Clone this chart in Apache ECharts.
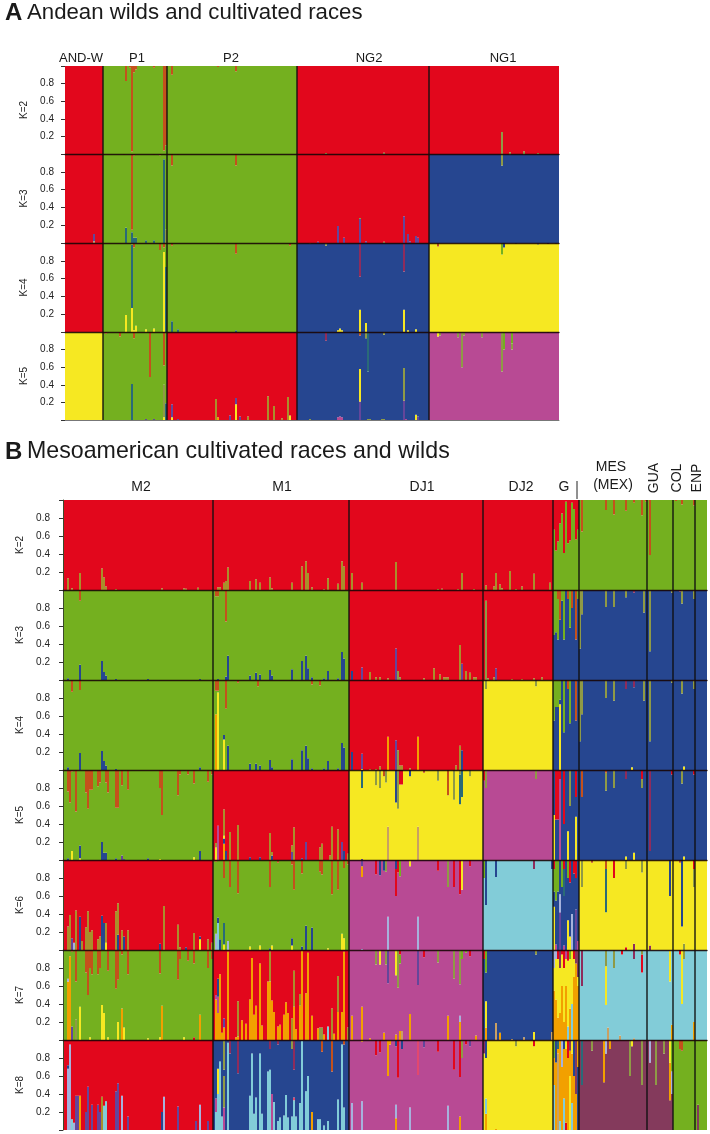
<!DOCTYPE html>
<html><head><meta charset="utf-8">
<style>html,body{margin:0;padding:0;background:#fff}#c{width:710px;height:1134px}</style>
<script src="https://cdn.jsdelivr.net/npm/echarts@6/dist/echarts.min.js"></script>
</head><body><div id="c"></div>
<script>
// ---------- categories ----------
const andeanGroups = ['AND-W','P1','P2','NG2','NG1'];
const andeanCounts = [19,32,65,66,65];
const mesoGroups = ['M2','M1','DJ1','DJ2','G','MES (MEX)','GUA','COL','ENP'];
const mesoCounts = [75,68,67,35,13,34,13,11,6];
const ticks = [0.2,0.4,0.6,0.8];

// cluster colours
const colours = {R:'#e2071c',G:'#74b01f',B:'#264690',Y:'#f6e822',M:'#b84a94',C:'#82ccd8',O:'#f2a000',P:'#843a5c',
  r:'#c4511c',o:'#a98f2b',t:'#2a6a78',v:'#64469a',l:'#a6b2dc',n:'#c9a063',p:'#e2486e',m:'#8e2c5c',a:'#8f9a46'};

// ---------- dominant cluster of each group, per K ----------
const aBaseK2=['R','G','G','R','R'], aBaseK3=['R','G','G','R','B'], aBaseK4=['R','G','G','B','Y'], aBaseK5=['Y','G','R','B','M'];
const mBaseK2=['R','R','R','R','G','G','G','G','G'];
const mBaseK3=['G','G','R','R','B','B','B','B','B'];
const mBaseK4=['G','G','R','Y','B','B','B','B','B'];
const mBaseK5=['G','R','Y','M','B','B','B','B','B'];
const mBaseK6=['R','G','M','C','B','Y','Y','Y','Y'];
const mBaseK7=['G','R','M','B','Y','C','C','C','C'];
const mBaseK8=['R','B','M','Y','O','P','P','G','G'];

// ---------- minority shares: [individual, share, cluster]; low = rising from 0, high = hanging from 1 ----------
const aK2High=[[30,.17,'r'],[32,.02,'r'],[33,.97,'r'],[34,.07,'r'],[35,.04,'r'],[44,.02,'r'],[49,.96,'r'],[50,.9,'r'],[53,.1,'r'],[76,.01,'r'],[85,.06,'r']];
const aK2Low=[[218,.25,'a'],[222,.02,'a'],[229,.03,'a'],[236,.01,'a'],[130,.01,'a'],[159,.015,'a']];
const aK3High=[[33,.85,'r'],[29,.01,'r'],[34,.02,'r'],[44,.01,'r'],[47,.015,'r'],[53,.13,'r'],[56,.01,'r'],[85,.13,'r'],[218,.13,'a'],[222,.01,'a'],[229,.01,'a']];
const aK3Low=[[33,.12,'t'],[30,.17,'t'],[34,.06,'t'],[35,.06,'t'],[40,.03,'t'],[44,.03,'t'],[49,.94,'t'],[50,.15,'a'],[14,.02,'n'],[14,.08,'v'],[136,.19,'v'],[139,.06,'v'],[147,.27,'v'],[147,.01,'a'],[169,.3,'v'],[171,.1,'v'],[175,.08,'v'],[176,.06,'v'],[126,.015,'v'],[150,.02,'v'],[159,.015,'a'],[172,.02,'v']];
const aK4High=[[34,.05,'r'],[47,.08,'r'],[49,.05,'r'],[53,.03,'r'],[76,.01,'r'],[85,.12,'r'],[112,.03,'r'],[130,.03,'a'],[122,.01,'a'],[147,.38,'m'],[169,.32,'m'],[186,.04,'r'],[218,.13,'G'],[219,.05,'B'],[225,.01,'a'],[236,.02,'a'],[241,.01,'m'],[245,.01,'a']];
const aK4Low=[[33,.27,'Y'],[33,.71,'t'],[49,.9,'Y'],[50,.73,'t'],[30,.19,'Y'],[35,.07,'Y'],[34,.02,'Y'],[40,.03,'Y'],[44,.04,'Y'],[53,.12,'t'],[56,.03,'t'],[85,.02,'t'],[147,.25,'Y'],[150,.1,'Y'],[169,.25,'Y'],[171,.02,'Y'],[175,.03,'Y'],[136,.02,'Y'],[137,.04,'Y'],[138,.02,'Y']];
const aK5High=[[20,.02,'r'],[27,.05,'r'],[34,.07,'r'],[42,.51,'r'],[49,.38,'r'],[130,.1,'m'],[147,.04,'r'],[150,.07,'a'],[151,.45,'t'],[159,.03,'a'],[126,.01,'m'],[186,.05,'Y'],[187,.04,'a'],[196,.06,'a'],[198,.4,'a'],[199,.04,'a'],[208,.06,'a'],[218,.45,'a'],[219,.2,'G'],[223,.13,'G'],[223,.07,'a'],[230,.01,'a'],[241,.01,'m']];
const aK5Low=[[33,.41,'t'],[49,.03,'Y'],[49,.37,'a'],[50,.19,'t'],[40,.01,'v'],[44,.01,'v'],[53,.03,'Y'],[53,.15,'v'],[56,.01,'v'],[75,.24,'o'],[76,.03,'O'],[82,.05,'v'],[85,.18,'Y'],[85,.07,'v'],[87,.04,'v'],[91,.04,'o'],[101,.27,'o'],[104,.16,'o'],[108,.02,'o'],[111,.26,'o'],[112,.05,'Y'],[147,.21,'v'],[147,.37,'Y'],[169,.22,'v'],[169,.37,'a'],[175,.06,'Y'],[176,.04,'v'],[136,.03,'M'],[137,.04,'M'],[138,.03,'M'],[122,.01,'a'],[151,.01,'a'],[152,.01,'a'],[158,.01,'a'],[159,.01,'a'],[170,.01,'M']];

const mK2High=[[245,.33,'R'],[246,.56,'R'],[247,.46,'R'],[248,.26,'R'],[249,.15,'R'],[250,.59,'R'],[251,.02,'R'],[252,.48,'R'],[253,.45,'R'],[254,.03,'R'],[255,.1,'R'],[256,.44,'R'],[257,.33,'R'],[259,.35,'r'],[271,.11,'r'],[275,.16,'r'],[281,.12,'r'],[285,.03,'r'],[289,.17,'r'],[291,.02,'r'],[293,.61,'r'],[306,.01,'r'],[309,.05,'r'],[315,.06,'r']];
const mK2Low=[[2,.13,'o'],[4,.02,'o'],[8,.19,'o'],[19,.24,'o'],[20,.14,'o'],[21,.04,'o'],[26,.01,'o'],[49,.02,'o'],[60,.02,'o'],[61,.015,'o'],[67,.025,'o'],[77,.03,'o'],[78,.03,'o'],[80,.08,'o'],[81,.1,'o'],[82,.25,'o'],[93,.1,'o'],[96,.12,'o'],[98,.08,'o'],[103,.14,'o'],[104,.02,'o'],[114,.08,'o'],[119,.26,'o'],[121,.32,'o'],[122,.19,'o'],[124,.03,'o'],[130,.01,'o'],[132,.13,'o'],[137,.07,'o'],[139,.32,'o'],[140,.26,'o'],[144,.19,'o'],[149,.08,'o'],[166,.31,'o'],[187,.01,'o'],[189,.015,'o'],[197,.01,'o'],[199,.19,'o'],[205,.01,'o'],[211,.05,'o'],[215,.04,'o'],[216,.19,'o'],[218,.06,'o'],[219,.02,'o'],[223,.21,'o'],[226,.01,'o'],[229,.04,'o'],[235,.18,'o'],[243,.08,'o']];
const mK3High=[[8,.12,'r'],[76,.07,'r'],[77,.07,'r'],[81,.35,'r'],[245,.5,'G'],[246,.47,'G'],[247,.1,'r'],[247,.45,'G'],[248,.33,'r'],[249,.12,'G'],[250,.55,'G'],[252,.1,'r'],[253,.42,'G'],[254,.2,'r'],[256,.55,'r'],[257,.1,'G'],[258,.65,'a'],[259,.27,'a'],[271,.19,'a'],[275,.19,'a'],[281,.08,'a'],[285,.03,'m'],[290,.25,'a'],[293,.68,'a'],[304,.03,'a'],[308,.02,'m'],[309,.15,'a'],[315,.1,'a']];
const mK3Low=[[2,.02,'B'],[8,.17,'B'],[19,.21,'B'],[20,.09,'B'],[21,.05,'B'],[26,.01,'B'],[42,.01,'B'],[68,.01,'B'],[77,.01,'B'],[81,.04,'B'],[82,.27,'B'],[93,.05,'B'],[96,.08,'B'],[98,.06,'B'],[103,.11,'B'],[104,.05,'B'],[114,.12,'B'],[119,.21,'B'],[121,.27,'B'],[122,.13,'B'],[124,.03,'B'],[130,.02,'B'],[132,.1,'B'],[137,.02,'B'],[139,.31,'B'],[140,.24,'B'],[144,.1,'B'],[149,.14,'v'],[153,.09,'o'],[156,.03,'o'],[158,.03,'o'],[162,.02,'o'],[166,.35,'v'],[167,.1,'a'],[168,.03,'a'],[180,.02,'o'],[185,.13,'o'],[188,.06,'o'],[190,.03,'o'],[191,.03,'o'],[192,.03,'o'],[198,.39,'o'],[199,.18,'v'],[201,.1,'o'],[203,.08,'o'],[205,.03,'o'],[206,.03,'o'],[211,.88,'a'],[212,.02,'a'],[215,.03,'o'],[216,.13,'v'],[224,.01,'o'],[229,.01,'o'],[235,.02,'o'],[239,.03,'o']];
const mK4High=[[4,.13,'r'],[8,.11,'r'],[76,.12,'r'],[77,.12,'r'],[81,.32,'r'],[87,.03,'r'],[97,.07,'r'],[124,.05,'r'],[128,.06,'r'],[211,.1,'a'],[236,.07,'a'],[216,.01,'a'],[245,.45,'G'],[246,.3,'G'],[247,.3,'G'],[248,.22,'G'],[250,.58,'G'],[252,.1,'r'],[253,.48,'G'],[256,.45,'r'],[258,.68,'a'],[259,.38,'a'],[271,.2,'a'],[275,.23,'a'],[281,.1,'m'],[285,.08,'m'],[290,.23,'a'],[293,.68,'a'],[304,.03,'a'],[309,.15,'a'],[315,.1,'a']];
const mK4Low=[[2,.03,'B'],[8,.19,'B'],[19,.21,'B'],[20,.1,'B'],[21,.05,'B'],[26,.01,'B'],[68,.03,'B'],[76,.62,'O'],[77,.86,'Y'],[80,.34,'Y'],[80,.05,'B'],[82,.27,'B'],[93,.07,'B'],[96,.07,'B'],[98,.05,'B'],[103,.11,'B'],[104,.03,'B'],[114,.12,'B'],[119,.22,'B'],[121,.27,'B'],[122,.13,'B'],[124,.02,'B'],[130,.02,'B'],[132,.1,'B'],[137,.02,'B'],[139,.3,'B'],[140,.25,'B'],[144,.2,'B'],[149,.01,'Y'],[149,.17,'v'],[153,.01,'o'],[156,.01,'o'],[158,.04,'o'],[162,.37,'O'],[166,.33,'v'],[167,.22,'a'],[168,.05,'o'],[169,.05,'o'],[173,.02,'o'],[177,.37,'O'],[196,.05,'o'],[198,.27,'o'],[199,.22,'B'],[248,.73,'Y'],[284,.03,'Y'],[310,.04,'Y']];
const mK5High=[[2,.24,'r'],[3,.36,'r'],[4,.02,'r'],[6,.46,'r'],[11,.25,'r'],[12,.43,'r'],[13,.22,'r'],[14,.22,'r'],[17,.18,'r'],[18,.14,'r'],[21,.14,'r'],[22,.25,'r'],[26,.42,'r'],[27,.42,'r'],[29,.17,'r'],[32,.22,'r'],[48,.2,'r'],[49,.5,'r'],[57,.28,'r'],[58,.05,'r'],[62,.05,'r'],[65,.15,'r'],[72,.13,'r'],[74,.05,'r'],[149,.2,'t'],[156,.17,'a'],[158,.2,'a'],[160,.07,'r'],[161,.14,'a'],[166,.36,'B'],[167,.43,'a'],[168,.16,'R'],[169,.16,'R'],[173,.07,'B'],[180,.03,'r'],[187,.12,'a'],[192,.28,'r'],[195,.33,'a'],[198,.05,'a'],[198,.33,'t'],[199,.3,'t'],[203,.07,'a'],[210,.12,'R'],[211,.2,'a'],[236,.1,'a'],[246,.55,'R'],[247,.55,'R'],[248,.4,'R'],[250,.6,'R'],[253,.4,'a'],[256,.3,'R'],[259,.3,'r'],[271,.03,'r'],[271,.2,'a'],[275,.2,'a'],[281,.1,'m'],[289,.1,'R'],[289,.1,'a'],[293,.9,'m'],[304,.05,'R'],[309,.15,'a'],[315,.05,'R']];
const mK5Low=[[2,.02,'B'],[4,.1,'Y'],[8,.02,'Y'],[8,.14,'B'],[19,.2,'B'],[20,.08,'B'],[21,.08,'B'],[26,.02,'B'],[29,.05,'v'],[30,.01,'v'],[42,.02,'B'],[48,.01,'Y'],[65,.03,'Y'],[68,.1,'B'],[76,.14,'Y'],[76,.05,'o'],[77,.38,'M'],[80,.18,'O'],[80,.06,'B'],[80,.03,'Y'],[80,.29,'o'],[81,.1,'B'],[83,.31,'o'],[87,.39,'o'],[93,.03,'B'],[98,.03,'B'],[103,.3,'o'],[104,.05,'B'],[104,.04,'o'],[114,.09,'v'],[114,.07,'o'],[115,.36,'o'],[119,.02,'B'],[121,.2,'v'],[128,.14,'o'],[129,.18,'o'],[133,.05,'o'],[134,.37,'o'],[137,.34,'o'],[139,.2,'v'],[140,.1,'B'],[142,.07,'o'],[149,.01,'v'],[162,.37,'n'],[177,.37,'n'],[245,.5,'Y'],[248,.9,'M'],[252,.32,'Y'],[256,.48,'Y'],[281,.04,'Y'],[285,.08,'Y'],[310,.04,'Y']];
const mK6High=[[76,.02,'r'],[80,.2,'r'],[83,.3,'r'],[87,.37,'r'],[103,.3,'r'],[107,.03,'r'],[114,.05,'r'],[115,.33,'r'],[119,.15,'r'],[128,.13,'r'],[129,.16,'r'],[134,.38,'r'],[137,.33,'r'],[140,.09,'r'],[142,.05,'r'],[149,.07,'v'],[149,.12,'O'],[156,.16,'R'],[158,.17,'B'],[160,.12,'B'],[161,.13,'a'],[166,.1,'B'],[166,.3,'R'],[167,.14,'R'],[168,.18,'G'],[173,.07,'Y'],[187,.12,'R'],[192,.3,'a'],[195,.3,'R'],[198,.38,'R'],[199,.33,'Y'],[203,.07,'R'],[210,.2,'G'],[211,.5,'B'],[216,.19,'B'],[235,.1,'m'],[244,.1,'B'],[245,.1,'R'],[245,.25,'G'],[246,.45,'G'],[247,.35,'G'],[249,.3,'G'],[250,.1,'R'],[250,.3,'t'],[252,.2,'G'],[253,.25,'R'],[255,.15,'R'],[256,.2,'R'],[259,.3,'a'],[271,.1,'r'],[271,.48,'t'],[275,.2,'R'],[264,.03,'r'],[281,.1,'a'],[289,.14,'a'],[303,.4,'B'],[308,.03,'r'],[309,.74,'B'],[315,.1,'R'],[315,.2,'a']];
const mK6Low=[[2,.26,'o'],[3,.39,'o'],[4,.13,'v'],[5,.08,'l'],[6,.44,'o'],[8,.37,'B'],[9,.1,'o'],[11,.25,'o'],[12,.43,'o'],[13,.2,'o'],[14,.22,'o'],[17,.12,'o'],[18,.15,'o'],[19,.38,'B'],[20,.3,'B'],[21,.08,'Y'],[21,.22,'o'],[26,.43,'o'],[27,.17,'B'],[27,.35,'o'],[29,.22,'o'],[30,.15,'B'],[32,.22,'o'],[48,.07,'B'],[50,.49,'o'],[57,.28,'o'],[58,.03,'o'],[61,.03,'B'],[65,.19,'o'],[68,.12,'Y'],[68,.03,'B'],[72,.12,'o'],[74,.08,'o'],[76,.18,'l'],[77,.3,'C'],[77,.06,'B'],[78,.12,'B'],[80,.06,'Y'],[80,.24,'t'],[82,.1,'l'],[93,.04,'Y'],[98,.05,'Y'],[103,.02,'B'],[104,.05,'Y'],[114,.05,'Y'],[114,.08,'B'],[119,.04,'B'],[121,.27,'B'],[124,.25,'B'],[132,.02,'Y'],[139,.18,'Y'],[140,.13,'Y'],[149,.01,'l'],[162,.37,'l'],[177,.37,'l'],[245,.48,'Y'],[246,.06,'M'],[248,.42,'v'],[248,.2,'l'],[250,.05,'M'],[252,.33,'Y'],[253,.15,'Y'],[254,.4,'l'],[256,.45,'v'],[257,.1,'M'],[281,.03,'R'],[285,.07,'m'],[293,.05,'m'],[310,.07,'a']];
const mK7High=[[4,.02,'r'],[6,.35,'r'],[11,.25,'r'],[12,.5,'r'],[13,.2,'r'],[14,.27,'r'],[17,.27,'r'],[18,.2,'r'],[22,.23,'r'],[26,.43,'r'],[27,.33,'r'],[29,.05,'r'],[32,.27,'r'],[48,.26,'r'],[57,.33,'r'],[58,.1,'r'],[62,.12,'r'],[65,.15,'r'],[72,.2,'r'],[74,.1,'r'],[156,.16,'a'],[158,.16,'Y'],[161,.16,'a'],[162,.37,'v'],[166,.28,'Y'],[167,.42,'a'],[168,.05,'R'],[168,.1,'G'],[177,.39,'v'],[180,.08,'R'],[187,.14,'a'],[195,.32,'a'],[198,.38,'a'],[199,.1,'G'],[201,.03,'G'],[203,.07,'R'],[210,.1,'R'],[211,.25,'G'],[236,.05,'a'],[245,.2,'l'],[246,.1,'l'],[247,.1,'R'],[248,.2,'P'],[249,.05,'R'],[250,.2,'R'],[251,.1,'M'],[252,.12,'R'],[253,.1,'G'],[254,.2,'Y'],[255,.1,'R'],[256,.15,'P'],[257,.3,'P'],[259,.4,'m'],[271,.18,'a'],[271,.43,'Y'],[275,.2,'a'],[279,.05,'R'],[285,.1,'m'],[289,.05,'a'],[289,.2,'R'],[303,.35,'Y'],[308,.05,'R'],[309,.6,'Y'],[310,.1,'a']];
const mK7Low=[[2,.65,'O'],[2,.03,'l'],[3,.93,'O'],[4,.15,'v'],[6,.23,'a'],[8,.37,'Y'],[13,.03,'Y'],[19,.39,'Y'],[20,.3,'Y'],[22,.03,'Y'],[27,.2,'Y'],[29,.35,'O'],[30,.14,'Y'],[42,.02,'Y'],[48,.03,'Y'],[49,.38,'O'],[60,.03,'Y'],[65,.03,'R'],[68,.28,'O'],[76,.45,'O'],[76,.05,'M'],[77,.3,'O'],[77,.18,'M'],[77,.2,'B'],[78,.73,'O'],[79,.08,'O'],[80,.14,'O'],[80,.1,'v'],[82,.98,'O'],[86,.03,'O'],[87,.04,'O'],[87,.39,'o'],[89,.22,'O'],[91,.18,'O'],[93,.45,'O'],[94,.91,'O'],[95,.28,'O'],[96,.38,'O'],[98,.85,'O'],[99,.16,'O'],[102,.65,'O'],[103,.65,'O'],[103,.33,'o'],[104,.44,'O'],[105,.31,'O'],[107,.15,'O'],[108,.17,'O'],[110,.28,'O'],[111,.42,'O'],[112,.3,'O'],[114,.24,'o'],[115,.37,'O'],[115,.4,'o'],[116,.12,'O'],[118,.38,'O'],[118,.13,'o'],[119,.99,'O'],[121,.52,'O'],[122,.97,'O'],[124,.27,'O'],[127,.13,'O'],[128,.14,'a'],[129,.14,'a'],[130,.06,'O'],[132,.15,'C'],[134,.35,'o'],[135,.07,'O'],[137,.31,'O'],[137,.4,'o'],[139,.31,'O'],[140,.98,'O'],[142,.14,'o'],[144,.27,'O'],[149,.37,'O'],[153,.02,'O'],[160,.08,'O'],[166,.06,'O'],[168,.1,'O'],[169,.1,'n'],[173,.29,'O'],[192,.27,'O'],[198,.2,'O'],[198,.07,'l'],[206,.05,'O'],[211,.14,'O'],[211,.29,'Y'],[216,.19,'n'],[218,.08,'O'],[224,.01,'n'],[230,.03,'n'],[235,.09,'Y'],[244,.09,'n'],[245,.55,'O'],[246,.45,'O'],[247,.25,'O'],[248,.3,'O'],[249,.6,'O'],[250,.2,'O'],[251,.6,'O'],[252,.15,'C'],[253,.35,'O'],[254,.4,'C'],[255,.7,'O'],[256,.85,'O'],[257,.6,'O'],[272,.14,'n'],[278,.05,'n'],[285,.02,'n'],[304,.17,'O'],[315,.2,'O']];
const mK8High=[[80,.33,'a'],[83,.15,'m'],[87,.37,'m'],[103,.1,'m'],[107,.05,'m'],[114,.1,'a'],[115,.33,'m'],[129,.13,'r'],[134,.35,'r'],[140,.05,'r'],[149,.02,'O'],[156,.17,'R'],[158,.14,'R'],[162,.4,'O'],[163,.05,'O'],[166,.07,'B'],[167,.42,'R'],[169,.1,'B'],[177,.39,'p'],[180,.08,'v'],[187,.13,'R'],[195,.33,'R'],[198,.41,'R'],[199,.2,'a'],[201,.05,'R'],[203,.07,'v'],[210,.15,'m'],[211,.2,'B'],[226,.07,'a'],[235,.07,'R'],[245,.2,'G'],[246,.25,'B'],[247,.1,'t'],[249,.3,'l'],[250,.1,'B'],[251,.1,'Y'],[252,.2,'R'],[253,.12,'P'],[254,.15,'Y'],[255,.4,'B'],[256,.6,'P'],[259,.5,'t'],[264,.12,'a'],[270,.47,'O'],[271,.15,'l'],[273,.1,'O'],[283,.4,'a'],[284,.07,'Y'],[289,.5,'a'],[293,.25,'l'],[296,.5,'a'],[300,.15,'a'],[303,.25,'Y'],[303,.42,'O'],[304,.35,'G'],[304,.25,'l'],[308,.1,'r'],[309,.12,'r']];
const mK8Low=[[2,.68,'l'],[2,.04,'B'],[3,.95,'l'],[4,.12,'C'],[5,.08,'l'],[6,.38,'v'],[7,.38,'v'],[8,.38,'O'],[11,.2,'v'],[12,.48,'v'],[14,.28,'v'],[17,.28,'v'],[18,.2,'v'],[19,.37,'o'],[20,.27,'C'],[21,.32,'C'],[26,.43,'v'],[27,.52,'v'],[29,.38,'l'],[32,.15,'v'],[49,.2,'B'],[50,.37,'l'],[57,.26,'v'],[66,.1,'v'],[68,.28,'l'],[72,.1,'v'],[76,.2,'C'],[76,.15,'M'],[77,.4,'C'],[77,.28,'Y'],[78,.76,'C'],[79,.15,'C'],[80,.25,'M'],[80,.35,'a'],[82,.97,'C'],[93,.38,'C'],[94,.85,'C'],[95,.18,'C'],[96,.36,'C'],[98,.85,'C'],[99,.18,'C'],[102,.65,'C'],[103,.67,'C'],[104,.4,'M'],[105,.31,'C'],[107,.1,'C'],[108,.14,'C'],[110,.16,'C'],[111,.39,'C'],[112,.14,'C'],[114,.15,'C'],[115,.33,'C'],[115,.03,'p'],[116,.15,'C'],[118,.3,'C'],[119,.99,'C'],[121,.43,'C'],[122,.6,'C'],[124,.2,'O'],[127,.12,'C'],[128,.12,'C'],[130,.05,'C'],[132,.1,'C'],[137,.34,'C'],[139,.95,'C'],[140,.25,'C'],[144,.3,'l'],[149,.32,'l'],[166,.13,'O'],[166,.15,'l'],[173,.25,'l'],[192,.27,'l'],[198,.15,'O'],[211,.18,'O'],[211,.17,'C'],[216,.01,'O'],[245,.5,'C'],[247,.85,'n'],[248,.1,'C'],[250,.35,'C'],[251,.08,'R'],[253,.6,'Y'],[254,.3,'C'],[257,.7,'B'],[317,.28,'P']];

const title = {A:'Andean wilds and cultivated races',B:'Mesoamerican cultivated races and wilds'};
const FONT = '"Liberation Sans", Arial, sans-serif';

function baseAt(i, counts, bases){let c=0;for(let g=0;g<counts.length;g++){c+=counts[g];if(i<c)return bases[g];}return bases[bases.length-1];}

const grids=[],xAxes=[],yAxes=[],series=[];
function addPanel(name,left,width,top,height,counts,bases,low,high,look){
  const n=counts.reduce((a,b)=>a+b,0), idx=grids.length;
  const stacks=[];
  for(let i=0;i<n;i++){
    const lo=low.filter(s=>s[0]===i), hi=high.filter(s=>s[0]===i);
    const sum=[...lo,...hi].reduce((a,s)=>a+s[1],0);
    const segs=lo.map(s=>[s[1],s[2]]);
    segs.push([Math.max(0,1-sum),baseAt(i,counts,bases)]);
    hi.slice().reverse().forEach(s=>segs.push([s[1],s[2]]));
    stacks.push(segs);
  }
  const depth=Math.max(...stacks.map(s=>s.length));
  const edges=new Set();let c=0;counts.slice(0,-1).forEach(v=>{c+=v;edges.add(c);});
  grids.push({left,top,width,height,containLabel:false});
  xAxes.push({type:'category',gridIndex:idx,data:Array.from({length:n},(_,i)=>i),boundaryGap:true,z:6,
    axisLine:{show:look.bottomLine!==null,onZero:false,lineStyle:look.bottomLine||{}},axisTick:{show:false},axisLabel:{show:false},
    splitLine:{show:true,showMinLine:true,showMaxLine:false,interval:(i)=>edges.has(i),lineStyle:{color:'rgba(15,15,15,0.9)',width:1.5}}});
  yAxes.push({type:'value',gridIndex:idx,min:0,max:1,interval:0.2,z:6,name,nameLocation:'middle',nameRotate:90,nameGap:look.nameGap,
    nameTextStyle:{fontFamily:FONT,fontSize:10,color:'#222'},
    axisLine:{show:look.leftLine,lineStyle:{color:'#3a4a2a',width:1}},axisTick:{show:true,length:4,lineStyle:{color:'#333',width:1}},
    axisLabel:{margin:look.margin,fontFamily:FONT,fontSize:10,color:'#222',formatter:v=>ticks.some(t=>Math.abs(t-v)<1e-6)?v.toFixed(1):''},
    splitLine:{show:false}});
  for(let d=0;d<depth;d++){
    series.push({type:'bar',xAxisIndex:idx,yAxisIndex:idx,stack:'p'+idx,barWidth:'100%',barCategoryGap:'0%',silent:true,animation:false,
      data:stacks.map(s=>s[d]?{value:s[d][0],itemStyle:{color:colours[s[d][1]]}}:null)});
  }
}

const rowLine={color:'rgba(25,5,5,0.9)',width:1.3};
const aTops=[66,154,243,332], aH=[88,89,89,88];
[[aBaseK2,aK2Low,aK2High],[aBaseK3,aK3Low,aK3High],[aBaseK4,aK4Low,aK4High],[aBaseK5,aK5Low,aK5High]].forEach((p,k)=>
  addPanel('K='+(k+2),65,494,aTops[k],aH[k],andeanCounts,p[0],p[1],p[2],
    {nameGap:36,leftLine:false,margin:11,bottomLine:k===3?{color:'#777',width:1}:rowLine}));
[[mBaseK2,mK2Low,mK2High],[mBaseK3,mK3Low,mK3High],[mBaseK4,mK4Low,mK4High],[mBaseK5,mK5Low,mK5High],[mBaseK6,mK6Low,mK6High],[mBaseK7,mK7Low,mK7High],[mBaseK8,mK8Low,mK8High]].forEach((p,k)=>
  addPanel('K='+(k+2),63,644,500+90*k,90,mesoCounts,p[0],p[1],p[2],
    {nameGap:34,leftLine:true,margin:13,bottomLine:k===6?null:rowLine}));

const txt=(t,x,y,size,extra)=>Object.assign({type:'text',x,y,silent:true,style:Object.assign({text:t,fill:'#1a1a1a',font:`${size}px ${FONT}`,textAlign:'center',textVerticalAlign:'middle'},extra&&extra.style||{})},extra&&extra.el||{});
const headers=[
 txt('A',5,13,24,{style:{textAlign:'left',font:`bold 24px ${FONT}`}}),
 txt(title.A,27,13,22.2,{style:{textAlign:'left'}}),
 txt('B',5,452,24,{style:{textAlign:'left',font:`bold 24px ${FONT}`}}),
 txt(title.B,27,452,23.2,{style:{textAlign:'left'}}),
 txt(andeanGroups[0],81,58,13),txt(andeanGroups[1],137,58,13),txt(andeanGroups[2],231,58,13),txt(andeanGroups[3],369,58,13),txt(andeanGroups[4],503,58,13),
 txt(mesoGroups[0],141,487,14),txt(mesoGroups[1],282,487,14),txt(mesoGroups[2],422,487,14),txt(mesoGroups[3],521,487,14),txt(mesoGroups[4],564,487,14),
 txt('MES',611,467,14),txt('(MEX)',613,485,14),
 txt(mesoGroups[6],654,478,14,{el:{rotation:Math.PI/2}}),txt(mesoGroups[7],677,478,14,{el:{rotation:Math.PI/2}}),txt(mesoGroups[8],697,478,14,{el:{rotation:Math.PI/2}}),
 {type:'line',silent:true,shape:{x1:577,y1:481,x2:577,y2:499},style:{stroke:'#222',lineWidth:1}}
];
const chart=echarts.init(document.getElementById('c'),null,{renderer:'canvas'});
chart.setOption({animation:false,backgroundColor:'#fff',tooltip:{show:false},grid:grids,xAxis:xAxes,yAxis:yAxes,series,graphic:headers});
</script></body></html>
